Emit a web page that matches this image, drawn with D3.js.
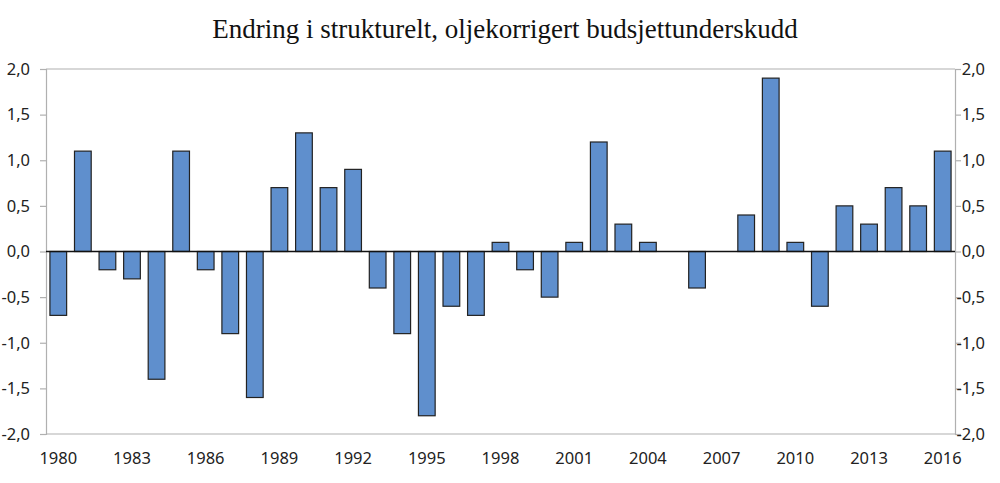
<!DOCTYPE html>
<html>
<head>
<meta charset="utf-8">
<script src="https://cdn.jsdelivr.net/npm/d3@7"></script>
<style>
  body { margin: 0; background: #fff; }
</style>
</head>
<body>
<div id="chart"></div>
<script>
// values
const years = d3.range(1980, 2017);
const values = [
  -0.7, 1.1, -0.2, -0.3, -1.4, 1.1, -0.2, -0.9, -1.6, 0.7,
   1.3, 0.7,  0.9, -0.4, -0.9, -1.8, -0.6, -0.7, 0.1, -0.2,
  -0.5, 0.1,  1.2,  0.3,  0.1,  0.0, -0.4,  0.0, 0.4,  1.9,
   0.1, -0.6, 0.5,  0.3,  0.7,  0.5,  1.1
];
const yTicks = [-2, -1.5, -1, -0.5, 0, 0.5, 1, 1.5, 2];
const xLabelYears = d3.range(1980, 2017, 3);
const titleText = "Endring i strukturelt, oljekorrigert budsjettunderskudd";

const sizes = {width: 1000, height: 483, margin: {top: 69, right: 45, bottom: 49, left: 46}};
const font = "'Noto Sans', 'Open Sans', sans-serif";
const fmt = (d) => d3.format(".1f")(d).replace(".", ",").replace("−", "-");

const svg = d3.select("#chart").append("svg")
  .attr("width", sizes.width)
  .attr("height", sizes.height)
  .attr("viewBox", `0 0 ${sizes.width} ${sizes.height}`);

const x = d3.scaleBand()
  .domain(years)
  .range([sizes.margin.left, sizes.width - sizes.margin.right])
  .paddingInner(0.32)
  .paddingOuter(0.16);

const y = d3.scaleLinear()
  .domain([-2, 2])
  .range([sizes.height - sizes.margin.bottom, sizes.margin.top]);

// title
svg.append("text")
  .text(titleText)
  .attr("x", 505)
  .attr("y", 38)
  .style("text-anchor", "middle")
  .style("font-family", "'Liberation Serif', 'DejaVu Serif', serif")
  .style("font-size", "27px")
  .style("fill", "#111");

// frame lines (top + bottom)
const x0 = sizes.margin.left, x1 = sizes.width - sizes.margin.right;
svg.append("path")
  .attr("fill", "none")
  .attr("stroke", "#b0b0b0")
  .attr("stroke-width", 1.2)
  .attr("d", `M ${x0} ${y(2)} L ${x1} ${y(2)} M ${x0} ${y(-2)} L ${x1} ${y(-2)}`);

const styleAxis = (g) => {
  g.select(".domain").attr("stroke", "#b0b0b0").attr("stroke-width", 1.2);
  g.selectAll(".tick line").attr("stroke", "#b0b0b0").attr("stroke-width", 1.2);
  g.selectAll("text")
    .style("font-family", font)
    .style("font-size", "16.5px")
    .style("fill", "#222");
};

svg.append("g")
  .attr("transform", `translate(${x0},0)`)
  .call(d3.axisLeft(y).tickValues(yTicks).tickFormat(fmt).tickSizeOuter(0).tickSize(6).tickPadding(10))
  .call(styleAxis);

svg.append("g")
  .attr("transform", `translate(${x1},0)`)
  .call(d3.axisRight(y).tickValues(yTicks).tickFormat(fmt).tickSizeOuter(0).tickSize(6).tickPadding(10))
  .call(styleAxis)
  .selectAll("text")
    .attr("x", 30)
    .style("text-anchor", "end");

// x labels
svg.append("g")
  .selectAll("text")
  .data(xLabelYears)
  .enter()
  .append("text")
    .text((d) => d)
    .attr("x", (d) => x(d) + x.bandwidth() / 2)
    .attr("y", 464)
    .style("text-anchor", "middle")
    .style("font-family", font)
    .style("font-size", "16.5px")
    .style("fill", "#222");

// bars
svg.append("g")
  .selectAll("rect")
  .data(years.map((yr, i) => ({year: yr, value: values[i]})).filter((d) => d.value !== 0))
  .enter()
  .append("rect")
    .attr("x", (d) => x(d.year))
    .attr("width", x.bandwidth())
    .attr("y", (d) => y(Math.max(0, d.value)))
    .attr("height", (d) => Math.abs(y(d.value) - y(0)))
    .attr("fill", "#5f8fcd")
    .attr("stroke", "#222")
    .attr("stroke-width", 1.2);

// zero line
svg.append("path")
  .attr("fill", "none")
  .attr("stroke", "#111")
  .attr("stroke-width", 1.3)
  .attr("d", `M ${x0} ${y(0)} L ${x1} ${y(0)}`);
</script>
</body>
</html>
